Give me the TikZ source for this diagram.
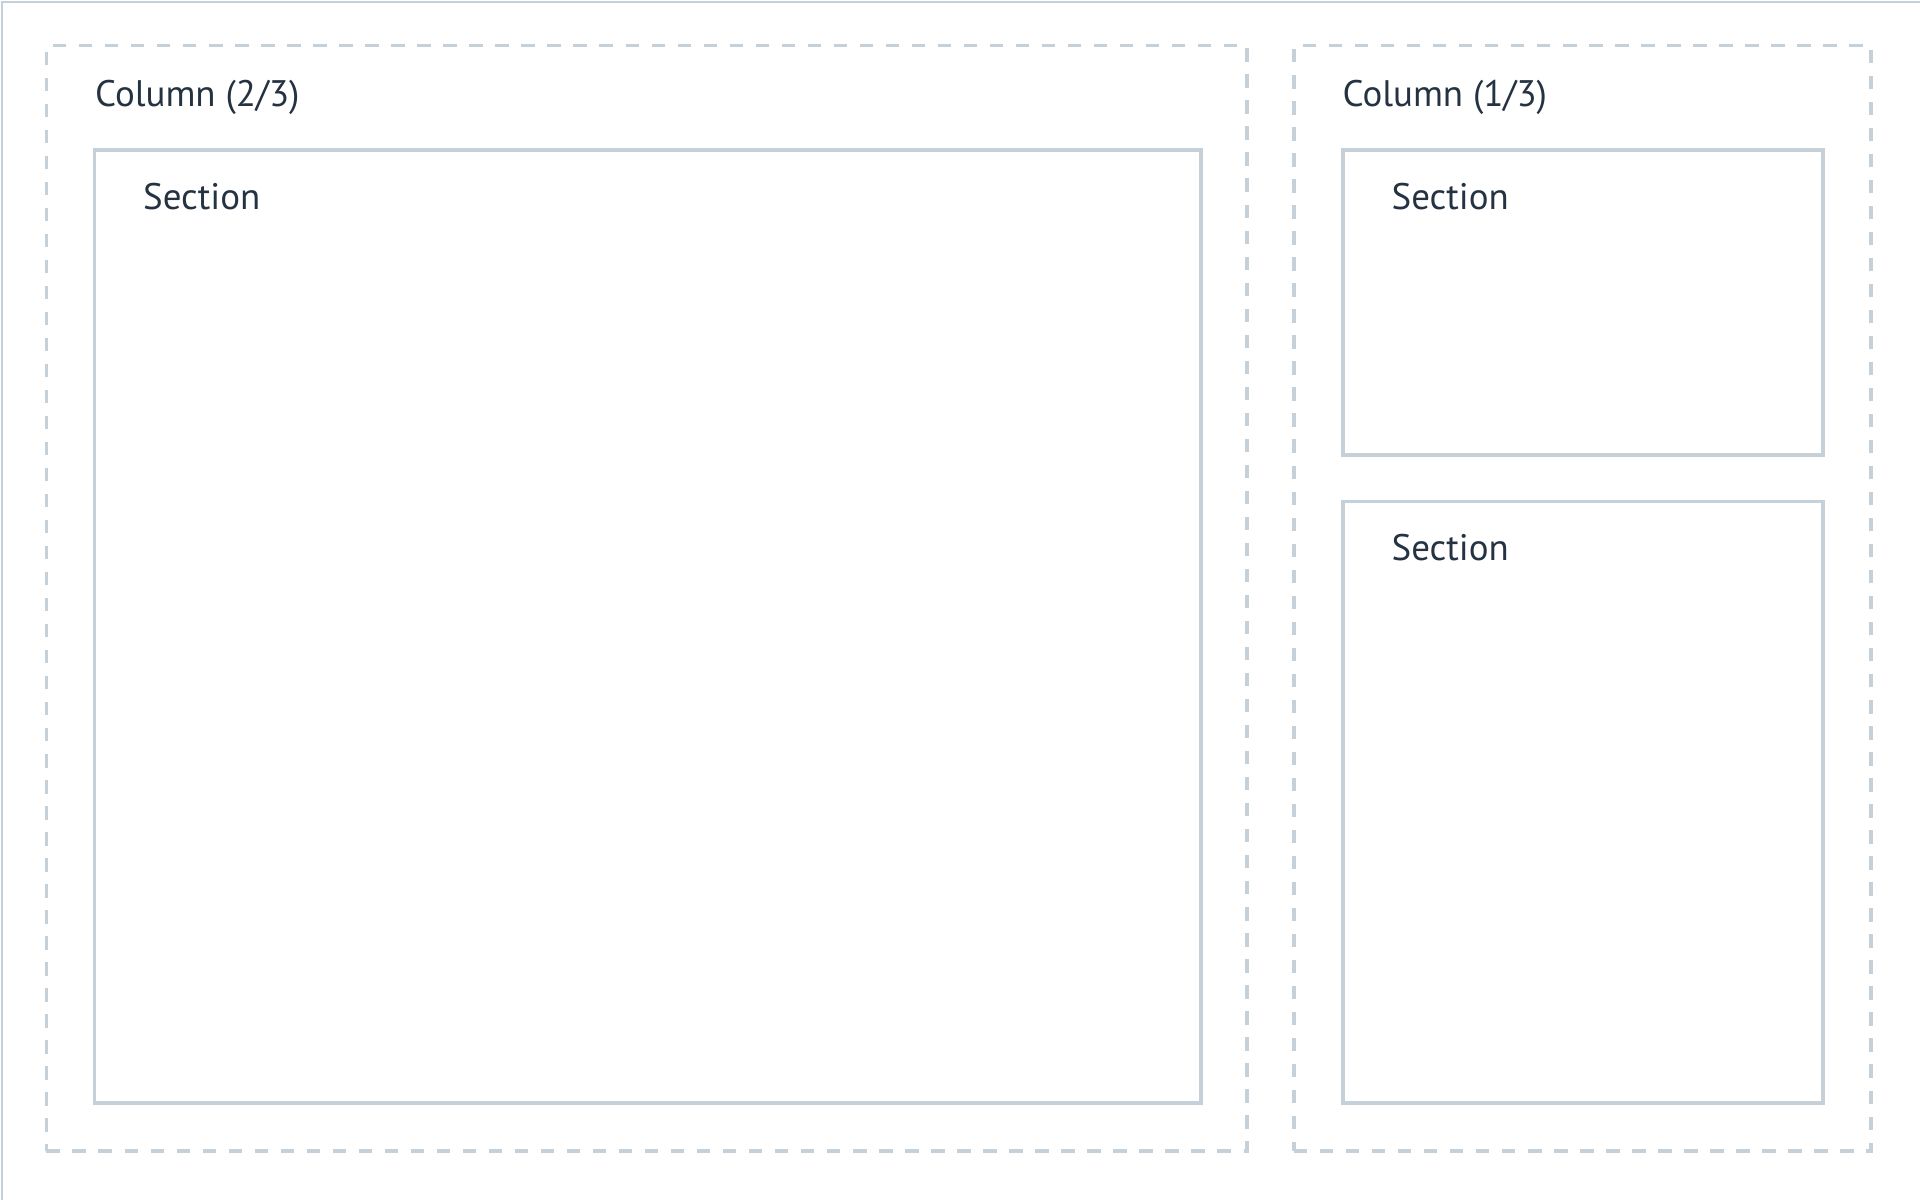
\documentclass[tikz,border=0pt]{standalone}
\usepackage{fontspec}
\setmainfont{PT Sans}
\definecolor{edge}{HTML}{C5D0D9}
\definecolor{ink}{HTML}{253241}
\tikzset{
  pageframe/.style={draw=edge, line width=0.6pt, inner sep=0pt, anchor=north west},
  colbox/.style={draw=edge, line width=1.1pt, dash pattern=on 3.8pt off 3.6pt, inner sep=0pt, anchor=north west},
  secbox/.style={draw=edge, line width=1.1pt, inner sep=0pt, anchor=north west},
  lbl/.style={text=ink, font=\fontsize{10.5}{12}\selectfont, inner sep=0pt, anchor=base west}
}
\begin{document}
\begin{tikzpicture}[x=0.01cm, y=-0.01cm]
\useasboundingbox (0,0) rectangle (1920,1200);
\node[pageframe, minimum width=19.18cm, minimum height=11.98cm] (page) at (1,1) {};
% columns
\node[colbox, minimum width=12cm, minimum height=11.05cm] (colL) at (44.5,43.5) {};
\node[colbox, minimum width=5.77cm, minimum height=11.05cm] (colR) at (1292,43.5) {};
\node[lbl] (colLlbl) at ([shift={(50,63)}]colL.north west) {Column (2/3)};
\node[lbl] (colRlbl) at ([shift={(50,63)}]colR.north west) {Column (1/3)};
% sections
\node[secbox, minimum width=11.055cm, minimum height=9.525cm] (secA) at (92.5,148) {};
\node[secbox, minimum width=4.8cm, minimum height=3.05cm] (secB) at (1341,148) {};
\node[secbox, minimum width=4.8cm, minimum height=6.01cm] (secC) at (1341,499.5) {};
\foreach \s in {secA,secB,secC}
  \node[lbl] (\s-lbl) at ([shift={(50,61)}]\s.north west) {Section};
\end{tikzpicture}
\end{document}
